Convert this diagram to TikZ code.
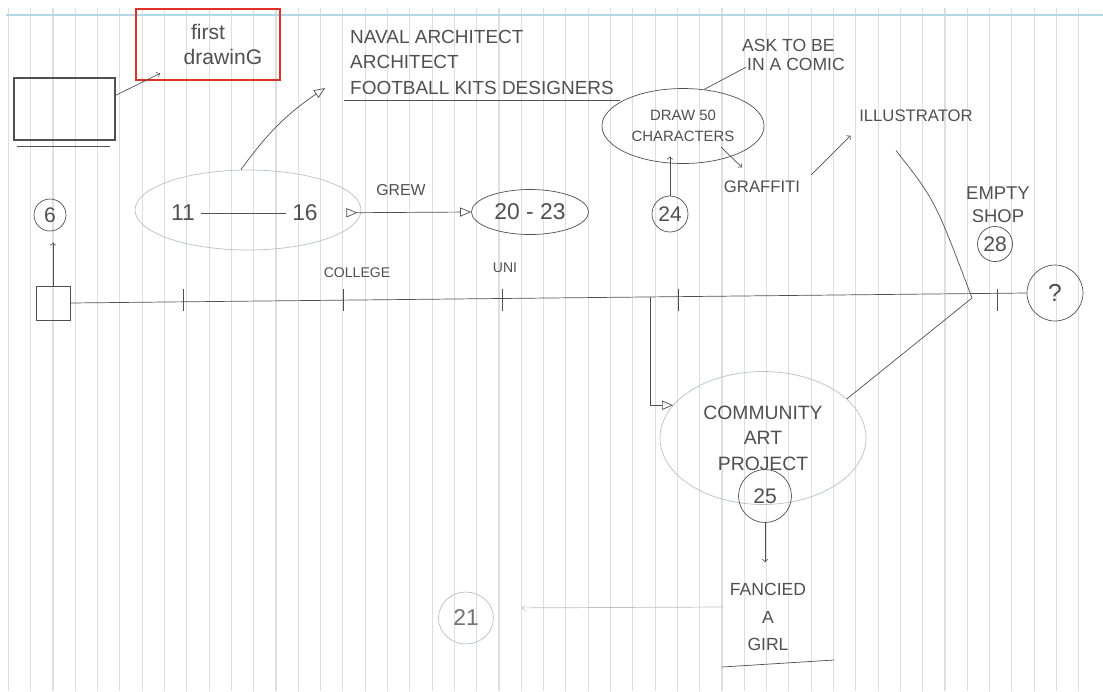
\documentclass[tikz,border=0pt]{standalone}
\usepackage{fontspec}
\setmainfont{Liberation Sans}
\usepackage{xcolor}
\usetikzlibrary{arrows, positioning, shapes.geometric}
\definecolor{ink}{RGB}{80,80,80}
\definecolor{faint}{RGB}{185,192,198}
\definecolor{ruling}{RGB}{222,222,226}
\definecolor{topline}{RGB}{178,216,230}
\definecolor{redbox}{RGB}{226,48,36}

\begin{document}
\begin{tikzpicture}[
          x=0.02cm, y=-0.02cm,
          every node/.style={align=center, text=ink, font=\fontsize{10}{15}\selectfont},
          pen/.style={draw=ink, thin},
          arrow/.style={->, thin, draw=ink},
          open/.style={-open triangle 45, thin, draw=ink},
          ring/.style={circle, draw=ink, thin, inner sep=0pt, font=\fontsize{12}{14}\selectfont},
          blob/.style={ellipse, draw=faint, thin, inner sep=0pt}
        ]
          % paper
          \fill[white] (0,0) rectangle (1103,691);
          \useasboundingbox (0,0) rectangle (1103,691);
          \foreach \i in {0,...,48}
            \draw[ruling, line width=0.6pt] ({8.4+\i*22.3},8) -- ({8.4+\i*22.3},691);
          \draw[topline, line width=0.6pt] (6,15) -- (1103,15);

          % left side
          \node[draw=ink, line width=0.9pt, minimum width=2.02cm, minimum height=1.24cm] (tv) at (64.5,109) {};
          \draw[pen] (17,146) -- (110,146);
          \node[draw=redbox, line width=1.1pt, minimum width=2.88cm, minimum height=1.42cm,
                font=\fontsize{12}{14}\selectfont] (firstdraw) at (208,44.5) {first\\\hspace{0.6cm}drawinG};
          \draw[arrow] (tv.15) -- ([xshift=0.5cm,yshift=0.15cm]firstdraw.south west);
          \node[ring, minimum size=0.64cm] (age6) at (50,215) {6};
          \node[draw=ink, thin, minimum width=0.68cm, minimum height=0.68cm] (start) at (53,303) {};
          \draw[arrow, shorten >=0.22cm] (start.north) -- (start.north |- age6.south);

          % timeline
          \node[ring, minimum size=1.12cm, font=\fontsize{14}{16}\selectfont] (question) at (1055,293) {?};
          \coordinate (junction) at (972,298);
          \draw[pen] (start.east) -- (question.west);
          \foreach \x in {183,343,502,678,997}
            \draw[pen] (\x,289) -- (\x,311);
          \node[font=\fontsize{8}{10}\selectfont] (college) at (357,273) {COLLEGE};
          \node[font=\fontsize{8}{10}\selectfont] (uni) at (505,268) {UNI};

          % 11 - 16
          \node[blob, minimum width=4.52cm, minimum height=1.6cm] (cloud) at (248,210) {};
          \node[font=\fontsize{13}{15}\selectfont] (age11) at (183,213) {11};
          \node[font=\fontsize{13}{15}\selectfont] (age16) at (305,213) {16};
          \draw[pen] (age11) -- (age16);
          \node[anchor=north west, align=left, font=\fontsize{10.8}{14.5}\selectfont] (jobs) at (344,24)
            {NAVAL ARCHITECT\\ARCHITECT\\FOOTBALL KITS DESIGNERS};
          \draw[pen] (jobs.south west) -- (jobs.south east);
          \coordinate (jobsarrow) at (325,88);
          \draw[open] (cloud.100) to[bend left=10] (jobsarrow);

          % 20 - 23
          \node[ellipse, draw=ink, thin, minimum width=2.3cm, minimum height=0.9cm,
                font=\fontsize{13}{15}\selectfont] (age2023) at (530,212) {20 - 23};
          \draw[open triangle 45 reversed-open triangle 45, draw=ink, thin, shorten <=0.45cm]
            (age16) -- (age2023.west);
          \node[font=\fontsize{9}{11}\selectfont] (grew) at (401,190) {GREW};

          % 24
          \node[ellipse, draw=ink, thin, minimum width=2.9cm, minimum height=1.5cm,
                font=\fontsize{8.5}{12}\selectfont] (chars) at (683,126) {DRAW 50\\CHARACTERS};
          \node[anchor=north west, align=left, font=\fontsize{10}{11}\selectfont] (comic) at (736,33)
            {ASK TO BE\\\hspace{0.1cm}IN A COMIC};
          \draw[pen] (chars.60) -- ([xshift=0.2cm,yshift=0.2cm]comic.south west);
          \node[ring, minimum size=0.72cm] (age24) at (670,214) {24};
          \draw[arrow] (age24.north) -- ([yshift=0.15cm]age24.north |- chars.south);
          \node[font=\fontsize{9.5}{12}\selectfont] (graffiti) at (762,187) {GRAFFITI};
          \draw[arrow] ([xshift=0.76cm,yshift=-0.42cm]chars.center) -- ([xshift=-0.4cm,yshift=0.15cm]graffiti.north);
          \node[font=\fontsize{9.5}{12}\selectfont] (illustrator) at (916,116) {ILLUSTRATOR};
          \draw[arrow] ([xshift=0.1cm]graffiti.north east) -- ([xshift=-0.05cm,yshift=-0.15cm]illustrator.south west);
          \draw[pen] ([xshift=-0.4cm,yshift=-0.45cm]illustrator.south) .. controls (935,200) .. (junction);

          % 28
          \node[font=\fontsize{10.5}{13}\selectfont] (shop) at (998,205) {EMPTY\\SHOP};
          \node[ring, minimum size=0.7cm] (age28) at (995,244) {28};

          % 25
          \node[blob, minimum width=4.12cm, minimum height=2.66cm,
                font=\fontsize{11}{14.5}\selectfont] (community) at (763,438) {COMMUNITY\\ART\\PROJECT};
          \coordinate (branch) at (650,297);
          \draw[open] (branch) |- (community.160);
          \draw[pen] (junction) -- (community.25);
          \node[ring, minimum size=1.06cm] (age25) at (765,496) {25};
          \node[font=\fontsize{10}{15.5}\selectfont] (girl) at (768,617) {FANCIED\\A\\GIRL};
          \draw[arrow, shorten >=0.3cm] (age25.south) -- (age25.south |- girl.north);
          \draw[pen] (722,667) -- (834,660);
          \node[ellipse, draw=faint, thin, minimum width=1.1cm, minimum height=1.04cm,
                font=\fontsize{13}{15}\selectfont, text=ink!80] (age21) at (466,618) {21};
          \draw[->, draw=faint, thin, shorten >=0.56cm] ([yshift=0.2cm]girl.west) -- ([yshift=0.2cm]age21.east);
        \end{tikzpicture}
\end{document}
